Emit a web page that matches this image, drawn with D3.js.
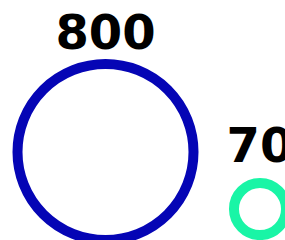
<!DOCTYPE html>
<html>
<head>
<meta charset="utf-8">
<script src="https://cdn.jsdelivr.net/npm/d3@7"></script>
<style>
  html, body { margin: 0; padding: 0; background: #fff; overflow: hidden; }
  svg { display: block; }
  text { font-family: "DejaVu Sans", sans-serif; font-weight: bold; }
</style>
</head>
<body>
<svg width="285" height="240"></svg>
<script>
var categories = ["A", "B"];
var values = [800, 70];
var colors = ["#0505b5", "#19f5a6"];

var svg = d3.select("svg"),
  width = +svg.attr("width"),
  height = +svg.attr("height");

var x = d3.scalePoint().domain(categories).range([105.5, 260]);
var r = d3.scaleSqrt().domain([0, 800]).range([0, 88]);

// bigger bubbles sit a bit higher
function cy(v) {
  return 233 - 0.92 * r(v);
}

var data = categories.map(function (c, i) {
  return { cat: c, value: values[i], color: colors[i] };
});

var node = svg
  .selectAll("g.bubble")
  .data(data)
  .enter()
  .append("g")
  .attr("class", "bubble")
  .attr("transform", function (d) {
    return "translate(" + x(d.cat) + "," + cy(d.value) + ")";
  });

node
  .append("circle")
  .attr("r", function (d) {
    return r(d.value);
  })
  .attr("fill", "none")
  .attr("stroke", function (d) {
    return d.color;
  })
  .attr("stroke-width", 10);

node
  .append("text")
  .attr("text-anchor", "middle")
  .attr("y", function (d) {
    return -r(d.value) - (d.value > 100 ? 15 : 21);
  })
  .attr("font-size", 48)
  .attr("fill", "#000")
  .text(function (d) {
    return d.value;
  });
</script>
</body>
</html>
